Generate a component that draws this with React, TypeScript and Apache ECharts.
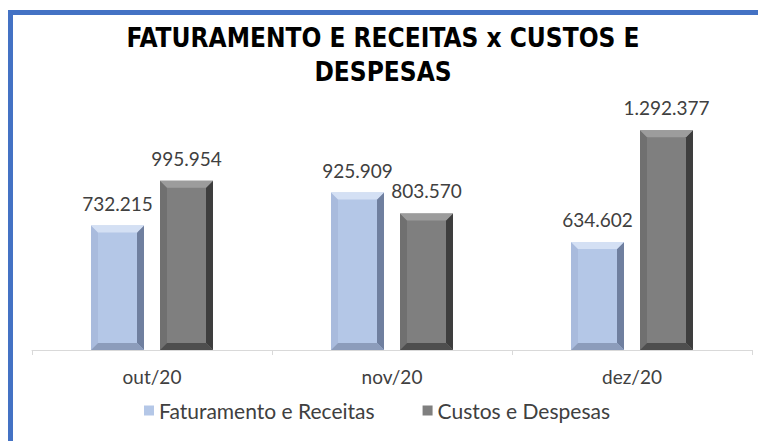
import React, { useEffect, useRef } from "react";
import * as echarts from "echarts";

const categories = ["out/20", "nov/20", "dez/20"];
const faturamento = [732215, 925909, 634602];
const custos = [995954, 803570, 1292377];
const seriesNames = ["Faturamento e Receitas", "Custos e Despesas"];

const fmt = (v: number) => v.toLocaleString("de-DE");
const FONT = "Lato, 'Noto Sans', sans-serif";

const BAR_W = 53;
const GAP = 16;
const BEVEL = 7;

const bevelColors = [
  { top: "#d4e0f4", left: "#a9bbdd", right: "#6f7f9f", bottom: "#8c9cbb" },
  { top: "#9c9c9c", left: "#707070", right: "#3e3e3e", bottom: "#4e4e4e" },
];

function makeBevel(offsetSign: number, colors: any) {
  return (params: any, api: any) => {
    const cat = api.value(0);
    const v = api.value(1);
    const top = api.coord([cat, v]);
    const base = api.coord([cat, 0]);
    const cx = top[0] + offsetSign * (BAR_W / 2 + GAP / 2);
    const x0 = cx - BAR_W / 2;
    const x1 = cx + BAR_W / 2;
    const y0 = top[1];
    const y1 = base[1];
    const b = BEVEL;
    return {
      type: "group",
      children: [
        {
          type: "polygon",
          shape: { points: [[x0, y0], [x0 + b, y0 + b], [x0 + b, y1 - b], [x0, y1]] },
          style: { fill: colors.left },
        },
        {
          type: "polygon",
          shape: { points: [[x1, y0], [x1, y1], [x1 - b, y1 - b], [x1 - b, y0 + b]] },
          style: { fill: colors.right },
        },
        {
          type: "polygon",
          shape: { points: [[x0, y1], [x0 + b, y1 - b], [x1 - b, y1 - b], [x1, y1]] },
          style: { fill: colors.bottom },
        },
        {
          type: "polygon",
          shape: { points: [[x0, y0], [x1, y0], [x1 - b, y0 + b], [x0 + b, y0 + b]] },
          style: { fill: colors.top },
        },
      ],
    };
  };
}

export default function App() {
  const ref = useRef<HTMLDivElement>(null);
  useEffect(() => {
    if (!ref.current) return;
    const chart = echarts.init(ref.current, undefined, { renderer: "svg" });
    const label = {
      show: true,
      position: "top" as const,
      distance: 13,
      color: "#404040",
      fontSize: 19,
      fontFamily: FONT,
      formatter: (p: any) => fmt(p.value),
    };
    chart.setOption({
      animation: false,
      backgroundColor: "#ffffff",
      title: {
        text: "FATURAMENTO E RECEITAS x CUSTOS E\nDESPESAS",
        left: 378,
        textAlign: "center",
        top: 16,
        textStyle: {
          fontFamily: "'DejaVu Sans Condensed', 'DejaVu Sans', sans-serif",
          fontWeight: "bold",
          fontSize: 26,
          lineHeight: 34,
          color: "#000000",
        },
      },
      graphic: [
        { type: "rect", shape: { x: 8, y: 10, width: 750, height: 5 }, style: { fill: "#4472c4" } },
        { type: "rect", shape: { x: 8, y: 10, width: 5, height: 431 }, style: { fill: "#4472c4" } },
      ],
      legend: {
        data: seriesNames,
        bottom: 15,
        left: 139,
        itemWidth: 10,
        itemHeight: 10,
        itemGap: 48,
        icon: "rect",
        textStyle: { fontSize: 21, color: "#404040", fontFamily: FONT },
      },
      grid: { left: 32, right: 6, top: 112, bottom: 91 },
      xAxis: {
        type: "category",
        data: categories,
        axisLine: { lineStyle: { color: "#d9d9d9", width: 1 } },
        axisTick: { show: true, length: 5, lineStyle: { color: "#d9d9d9" } },
        axisLabel: { fontSize: 19, color: "#404040", fontFamily: FONT, margin: 17 },
      },
      yAxis: {
        type: "value",
        min: 0,
        max: 1400000,
        show: false,
        splitLine: { show: false },
      },
      series: [
        {
          name: seriesNames[0],
          type: "bar",
          data: faturamento,
          barWidth: BAR_W,
          barGap: (GAP / BAR_W) * 100 + "%",
          itemStyle: { color: "#b4c7e7" },
          label,
        },
        {
          name: seriesNames[1],
          type: "bar",
          data: custos,
          barWidth: BAR_W,
          itemStyle: { color: "#7f7f7f" },
          label,
        },
        {
          type: "custom",
          silent: true,
          z: 5,
          renderItem: makeBevel(-1, bevelColors[0]),
          data: faturamento.map((v, i) => [i, v]),
          encode: { x: 0, y: 1 },
        },
        {
          type: "custom",
          silent: true,
          z: 5,
          renderItem: makeBevel(1, bevelColors[1]),
          data: custos.map((v, i) => [i, v]),
          encode: { x: 0, y: 1 },
        },
      ],
    });
    return () => chart.dispose();
  }, []);
  return (
    <div
      ref={ref}
      style={{ position: "absolute", left: 0, top: 0, width: 758, height: 441 }}
    />
  );
}
